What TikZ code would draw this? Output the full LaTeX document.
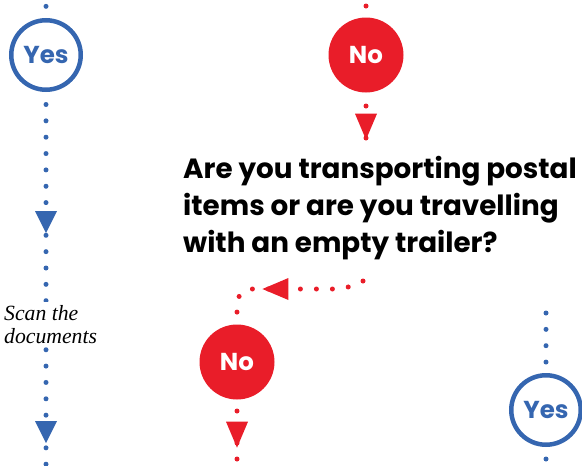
\documentclass[tikz,border=0pt]{standalone}
\usepackage{fontspec}
\newfontfamily\qfont{Poppins}
\newfontfamily\scanfont{Liberation Serif}
\usetikzlibrary{decorations.markings}
\definecolor{blueC}{HTML}{3566B0}
\definecolor{redC}{HTML}{E91D29}
\tikzset{
  bdots/.style={draw=blueC, line width=5pt, line cap=round, dash pattern=on 0pt off 16.35pt},
  rdots/.style={draw=redC, line width=5pt, line cap=round, dash pattern=on 0pt off 16pt},
  yescirc/.style={circle, draw=blueC, line width=4.5pt, minimum size=69.5pt, inner sep=0pt,
    font=\qfont\bfseries\fontsize{24.5}{24.5}\selectfont, text=blueC},
  nocirc/.style={circle, fill=redC, minimum size=75pt, inner sep=0pt,
    font=\qfont\bfseries\fontsize{24.5}{24.5}\selectfont, text=white},
  barrow/.style={postaction={decorate, decoration={markings,
    mark=at position #1 with {\fill[blueC, sharp corners] (0pt,0pt) -- (-22pt,11pt) -- (-22pt,-11pt) -- cycle;}}}},
  rarrow/.style={postaction={decorate, decoration={markings,
    mark=at position #1 with {\fill[redC, sharp corners] (0pt,0pt) -- (-26pt,11pt) -- (-26pt,-11pt) -- cycle;}}}},
  qtext/.style={align=left, inner sep=0pt, font=\qfont\bfseries\fontsize{27.8}{37}\selectfont},
  scantext/.style={align=left, inner xsep=1pt, inner ysep=3pt, fill=white,
    font=\scanfont\itshape\fontsize{21.7}{23}\selectfont}
}
\begin{document}
\begin{tikzpicture}[x=1pt, y=-1pt]
  \useasboundingbox (0,0) rectangle (582,466);
  \clip (0,0) rectangle (582,466);
  % coordinates
  \coordinate (top1) at (46,-10);
  \coordinate (bot1) at (46,480);
  \coordinate (top2) at (366,-10);
  \coordinate (qin) at (366,140);
  \coordinate (qout) at (363,281);
  \coordinate (bot2) at (237,480);
  \coordinate (yes2in) at (546,313);
  \coordinate (bot3) at (546,480);
  % nodes
  \node[yescirc] (yes1) at (46,55) {Yes};
  \node[nocirc] (no1) at (366,55) {No};
  \node[qtext, anchor=north west] (q) at (183,156) {Are you transporting postal\\items or are you travelling\\with an empty trailer?};
  \node[nocirc] (no2) at (237,362) {No};
  \node[yescirc] (yes2) at (546,410) {Yes};
  % connectors
  \draw[bdots] (top1) -- (yes1);
  \draw[bdots, dash phase=3.85pt, barrow=141pt, barrow=351pt] (yes1) -- (bot1);
  \node[scantext, anchor=north west] (scan) at (3,302) {Scan the\\documents};
  \draw[rdots] (top2) -- (no1);
  \draw[rdots, dash phase=2.7pt, rarrow=47pt] (no1) -- (qin);
  \draw[rdots, rounded corners=15pt, rarrow=102pt] (qout) -- (350,289) -- (237,289) -- (no2);
  \draw[rdots, dash phase=4.7pt, rarrow=48pt] (no2) -- (bot2);
  \draw[bdots] (yes2in) -- (yes2);
  \draw[bdots, dash phase=4.35pt] (yes2) -- (bot3);
\end{tikzpicture}
\end{document}
